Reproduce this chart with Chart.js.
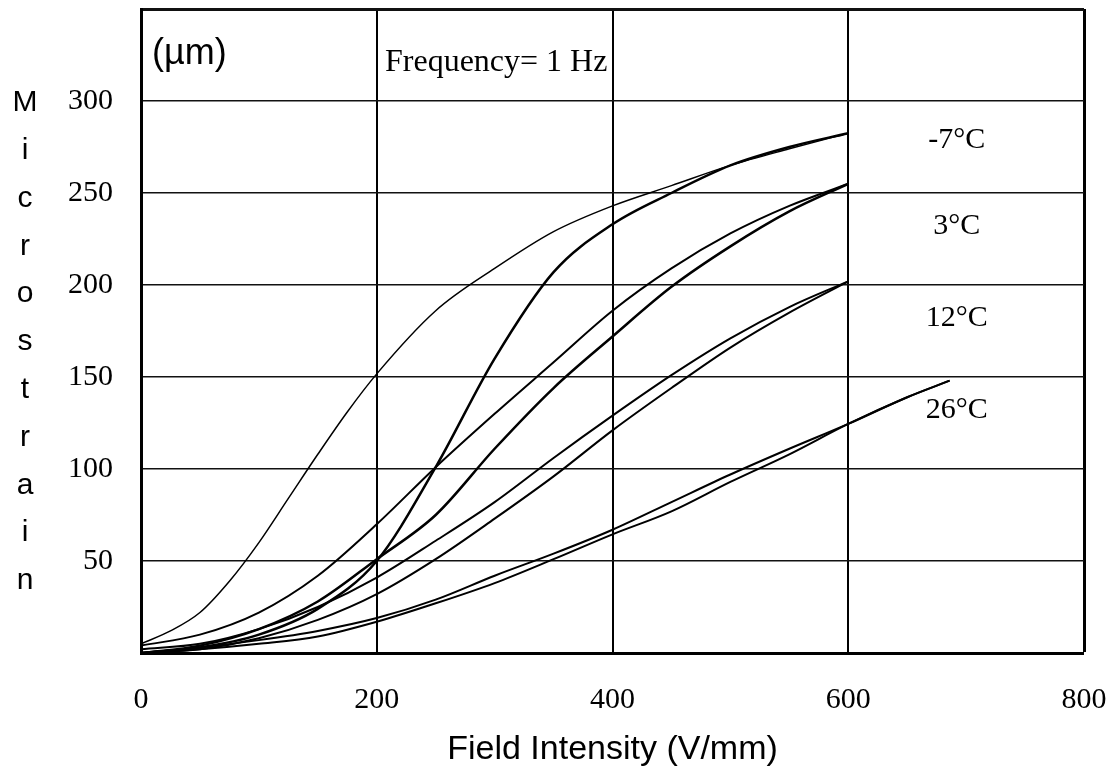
<!DOCTYPE html>
<html>
<head>
<meta charset="utf-8">
<script src="https://cdn.jsdelivr.net/npm/chart.js@4.4.1/dist/chart.umd.min.js"></script>
<style>
  html, body { margin: 0; padding: 0; background: #fff; }
  #wrap { width: 1115px; height: 778px; }
</style>
</head>
<body>
<div id="wrap"><canvas id="myChart"></canvas></div>
<script>
var field = [0, 50, 100, 150, 200, 250, 300, 350, 400, 450, 500, 550, 600]
var field26 = [0, 50, 100, 150, 200, 250, 300, 350, 400, 450, 500, 550, 600, 650, 686]

// -7 C : wide branch and steep S branch
var fieldM7a = [0, 25, 50, 75, 100, 125, 150, 175, 200, 250, 300, 350, 400, 450, 500, 550, 600]
var strainM7a = [5, 12, 22, 39, 60, 84, 108, 131, 151.7, 186, 209, 229, 243, 254, 265, 274, 282.5]
var strainM7b = [0, 3, 10, 24, 50, 101, 160, 207, 233, 250, 265, 275, 282.5]

// 3 C
var strain3a = [4, 10, 22, 42, 70, 101, 130, 158, 186, 209, 228, 243, 255]
var strain3b = [0, 4, 13, 28, 51, 75, 111, 144, 172, 199, 221, 240, 255]
// 12 C
var strain12a = [2, 5, 13, 25, 41, 61, 82, 106, 129, 151, 171, 188, 202]
var strain12b = [0, 2, 8, 18, 32, 51, 73, 96, 121, 144, 166, 185, 202]
// 26 C
var strain26a = [0, 3, 7, 12, 19, 29, 42, 54, 67, 82, 97, 111, 124.5, 139, 148]
var strain26b = [0, 2, 5, 9, 17, 27, 38, 51, 64.5, 77, 93, 108, 124.5, 139, 148]

var tempLabels = ['-7°C', '3°C', '12°C', '26°C']
var tempLabelAt = [[692, 279], [692, 232], [692, 182], [692, 132]]
var yTitle = 'Microstrain'

function pts (xs, ys) {
  return xs.map(function (v, i) { return { x: v, y: ys[i] } })
}

function curve (label, xs, ys, w) {
  return {
    label: label,
    data: pts(xs, ys),
    borderColor: '#000',
    borderWidth: w,
    pointRadius: 0,
    fill: false,
    cubicInterpolationMode: 'monotone'
  }
}

const textPlugin = {
  id: 'texts',
  afterDraw (chart) {
    const c = chart.ctx
    const xs = chart.scales.x
    const ys = chart.scales.y
    c.save()
    c.fillStyle = '#000'
    c.textBaseline = 'middle'

    // y title, one letter per line
    c.font = '30px "Liberation Sans"'
    c.textAlign = 'center'
    for (let i = 0; i < yTitle.length; i++) {
      c.fillText(yTitle[i], 25, 103 + i * 47.8)
    }
    // x title
    c.font = '34px "Liberation Sans"'
    c.fillText('Field Intensity (V/mm)', (xs.left + xs.right) / 2, 750)

    // unit and frequency note
    c.textAlign = 'left'
    c.font = '36px "Liberation Sans"'
    c.fillText('(µm)', xs.left + 11, 54)
    c.font = '32px "Liberation Serif"'
    c.fillText('Frequency= 1 Hz', xs.getPixelForValue(207), 63)

    // temperature labels
    c.textAlign = 'center'
    c.font = '30px "Liberation Serif"'
    tempLabels.forEach(function (t, i) {
      c.fillText(t, xs.getPixelForValue(tempLabelAt[i][0]), ys.getPixelForValue(tempLabelAt[i][1]))
    })
    c.restore()
  }
}

const ctx = document.getElementById('myChart').getContext('2d')
const myChart = new Chart(ctx, {
  type: 'line',
  data: {
    datasets: [
      curve('-7°C a', fieldM7a, strainM7a, 1.5),
      curve('-7°C b', field, strainM7b, 2.5),
      curve('3°C a', field, strain3a, 2),
      curve('3°C b', field, strain3b, 2.5),
      curve('12°C a', field, strain12a, 2),
      curve('12°C b', field, strain12b, 2),
      curve('26°C a', field26, strain26a, 2),
      curve('26°C b', field26, strain26b, 2)
    ]
  },
  options: {
    responsive: true,
    maintainAspectRatio: false,
    animation: false,
    layout: { padding: { left: 0, right: 31, top: 9, bottom: 0 } },
    plugins: { legend: { display: false }, tooltip: { enabled: false } },
    scales: {
      x: {
        type: 'linear',
        min: 0,
        max: 800,
        afterFit: function (s) { s.height = 125; s.paddingLeft = 0; s.paddingRight = 0 },
        border: { display: true, color: '#000', width: 3 },
        grid: {
          color: '#000',
          drawTicks: false,
          lineWidth: function (c) { return c.tick.value === 800 ? 3 : (c.tick.value === 0 ? 0 : 2) }
        },
        ticks: {
          stepSize: 200,
          padding: 29,
          color: '#000',
          font: { family: 'Liberation Serif', size: 30 }
        }
      },
      y: {
        type: 'linear',
        min: 0,
        max: 350,
        afterFit: function (s) { s.width = 141; s.paddingTop = 0; s.paddingBottom = 0 },
        border: { display: true, color: '#000', width: 3 },
        grid: {
          color: '#111',
          drawTicks: false,
          lineWidth: function (c) { return c.tick.value === 350 ? 3 : (c.tick.value === 0 ? 0 : 1.5) }
        },
        ticks: {
          stepSize: 50,
          padding: 28,
          color: '#000',
          font: { family: 'Liberation Serif', size: 30 },
          callback: function (v) { return (v === 0 || v === 350) ? '' : v }
        }
      }
    }
  },
  plugins: [textPlugin]
})
</script>
</body>
</html>
